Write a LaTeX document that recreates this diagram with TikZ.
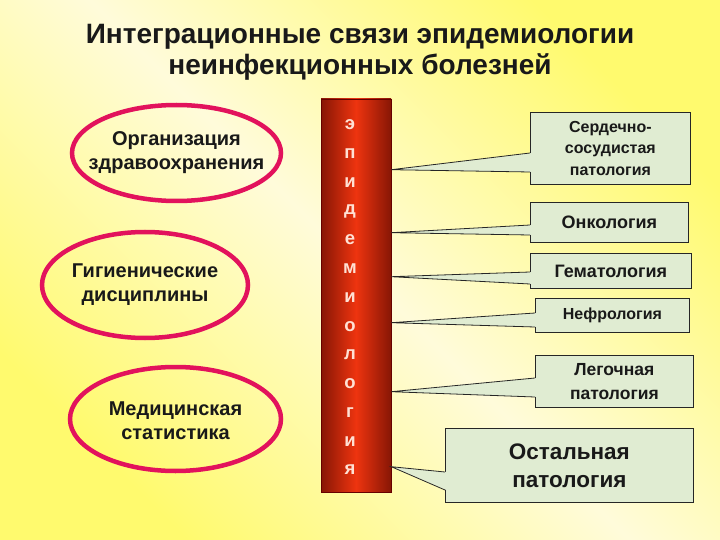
\documentclass[tikz,border=0pt]{standalone}
\usepackage{fontspec}
\setmainfont{Liberation Sans}
\usetikzlibrary{shapes.geometric,calc}
\definecolor{bgpale}{RGB}{255,251,218}
\definecolor{bgyel}{RGB}{255,250,110}
\definecolor{ellred}{RGB}{226,18,92}
\definecolor{bardark}{RGB}{135,22,5}
\definecolor{barmid}{RGB}{238,52,15}
\definecolor{boxgreen}{RGB}{224,236,210}
\definecolor{lettc}{RGB}{255,225,212}
\tikzset{
  titletext/.style={font=\bfseries\fontsize{28}{31}\selectfont, align=center, text=black!90},
  ell/.style={ellipse, draw=ellred, line width=4.5pt, inner sep=0pt},
  elltext/.style={font=\bfseries\fontsize{20}{24}\selectfont, align=center, text=black!90},
  bar/.style={rectangle, minimum width=70pt, minimum height=393pt, inner sep=0pt,
    left color=bardark, right color=bardark, middle color=barmid, draw=black!60!red, line width=0.6pt},
  lett/.style={font=\bfseries\fontsize{18.5}{18.5}\selectfont, text=lettc, inner sep=0pt},
  box/.style={rectangle, anchor=north west, fill=boxgreen, draw=black!85, line width=0.8pt,
    inner sep=0pt, align=center, font=\bfseries\fontsize{16}{21.5}\selectfont, text=black!90},
  wedgefill/.style={fill=boxgreen},
  wedgeline/.style={draw=black!85, line width=0.8pt, line join=miter},
}
\begin{document}
\begin{tikzpicture}[x=1pt,y=-1pt]
\useasboundingbox (0,0) rectangle (720,540);
\shade[top color=bgyel, bottom color=bgyel, middle color=bgpale, shading angle=-45] (0,0) rectangle (720,540);

\node[titletext] (title) at (360,52.5) {Интеграционные связи эпидемиологии\\неинфекционных болезней};

% left ellipses
\node[ell, minimum width=209pt, minimum height=96pt] (e1) at (176.5,153) {};
\node[elltext] (e1t) at (e1.center) {Организация\\здравоохранения};
\node[ell, minimum width=206pt, minimum height=106pt] (e2) at (145,285) {};
\node[elltext] (e2t) at (e2.center) {Гигиенические\\дисциплины};
\node[ell, minimum width=211pt, minimum height=104pt] (e3) at (175.5,419) {};
\node[elltext] (e3t) at ($(e3.center)+(0,2)$) {Медицинская\\статистика};

% central bar
\node[bar] (bar) at (356,295.5) {};
\foreach \c [count=\i from 0] in {э,п,и,д,е,м,и,о,л,о,г,и,я}
  \node[lett] (l\i) at (350,{125+28.75*\i}) {\c};

% tips on bar
\coordinate (p1) at ($(bar.north east)+(0,71)$);
\coordinate (p2) at ($(bar.north east)+(0,134)$);
\coordinate (p3) at ($(bar.north east)+(0,178)$);
\coordinate (p4) at ($(bar.north east)+(0,224)$);
\coordinate (p5) at ($(bar.north east)+(0,293)$);
\coordinate (p6) at ($(bar.north east)+(0,368)$);

% callout boxes
\node[box, minimum width=160pt, minimum height=72pt, text width=150pt, xshift=0pt] (b1) at (530,112) {Сердечно-\\сосудистая\\патология};
\node[box, minimum width=158pt, minimum height=40pt, font=\bfseries\fontsize{18}{21}\selectfont] (b2) at (530,202) {Онкология};
\node[box, minimum width=161pt, minimum height=35pt, font=\bfseries\fontsize{18}{21}\selectfont] (b3) at (530,253) {Гематология};
\node[box, minimum width=154pt, minimum height=34pt] (b4) at (535,298) {Нефрология};
\node[box, minimum width=158pt, minimum height=52pt, font=\bfseries\fontsize{17.5}{24}\selectfont] (b5) at (535,355) {Легочная\\патология};
\node[box, minimum width=248pt, minimum height=74pt, font=\bfseries\fontsize{22.5}{28}\selectfont] (b6) at (445,428) {Остальная\\патология};

% wedges
\foreach \b/\p/\ya/\yb in {b1/p1/41/60, b2/p2/23/33, b3/p3/19/31, b4/p4/15/29, b5/p5/23/42, b6/p6/44/62}{
  \fill[wedgefill] (\p) -- ($(\b.north west)+(1.2,\ya)$) -- ($(\b.north west)+(1.2,\yb)$) -- cycle;
  \draw[wedgeline] ($(\b.north west)+(0,\ya)$) -- (\p) -- ($(\b.north west)+(0,\yb)$);
}
\end{tikzpicture}
\end{document}
